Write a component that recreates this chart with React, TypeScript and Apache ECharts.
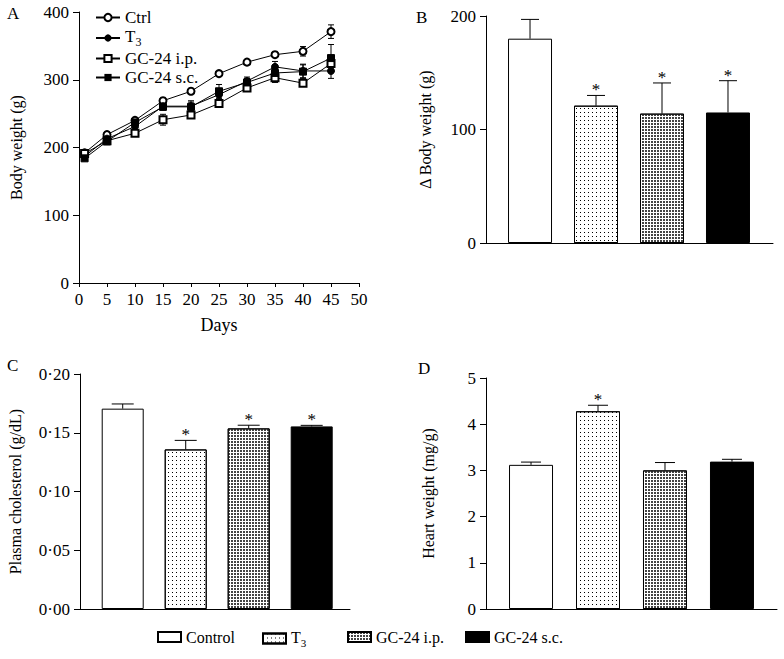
import React, { useEffect, useRef } from "react";
import * as echarts from "echarts";

// ---------- Data ----------
const days = [1, 5, 10, 15, 20, 25, 30, 35, 40, 45];
const ctrlMean = [192, 219, 240, 269, 283, 309, 326, 337, 342, 371];
const ctrlErr = [3, 4, 3, 4, 2, 2, 3, 4, 7, 10];
const t3Mean = [187, 213, 231, 261, 261, 278, 298, 319, 313, 313];
const t3Err = [2, 3, 4, 6, 6, 6, 6, 8, 10, 11];
const ipMean = [191, 210, 221, 241, 248, 265, 288, 303, 295, 324];
const ipErr = [2, 3, 3, 8, 5, 5, 5, 7, 5, 6];
const scMean = [184, 209, 237, 260, 260, 283, 296, 310, 312, 332];
const scErr = [2, 3, 3, 4, 9, 10, 6, 8, 10, 20];

const lineGroups = ["Ctrl", "T3", "GC-24 i.p.", "GC-24 s.c."];
const barGroups = ["Control", "T3", "GC-24 i.p.", "GC-24 s.c."];

const deltaBW = [180, 121, 114, 115];
const deltaBWErr = [17, 9, 27, 28];
const deltaBWSig = [0, 1, 1, 1];

const cholesterol = [0.1705, 0.1358, 0.1537, 0.1554];
const cholesterolErr = [0.004, 0.0077, 0.0027, 0.0009];
const cholesterolSig = [0, 1, 1, 1];

const heartWeight = [3.12, 4.28, 3.0, 3.19];
const heartWeightErr = [0.06, 0.13, 0.17, 0.05];
const heartWeightSig = [0, 1, 0, 0];

const yTicksA = [0, 100, 200, 300, 400];
const xTicksA = [0, 5, 10, 15, 20, 25, 30, 35, 40, 45, 50];

// ---------- Styles ----------
const F = "Liberation Serif, Times New Roman, serif";
const BLACK = "#000";

const lineMeans = [ctrlMean, t3Mean, ipMean, scMean];
const lineErrs = [ctrlErr, t3Err, ipErr, scErr];
const lineSymbols = ["emptyCircle", "circle", "emptyRect", "rect"];

const barItemStyles: any[] = [
  { color: "#fff", borderColor: BLACK, borderWidth: 1 },
  {
    color: "#fff",
    borderColor: BLACK,
    borderWidth: 1,
    decal: { symbol: "rect", symbolSize: 1, dashArrayX: [1, 3], dashArrayY: [1, 3], color: BLACK },
  },
  {
    color: "#fff",
    borderColor: BLACK,
    borderWidth: 1,
    decal: { symbol: "rect", symbolSize: 1, dashArrayX: [2, 1], dashArrayY: [2, 1], color: "#444" },
  },
  { color: BLACK, borderColor: BLACK, borderWidth: 1 },
];

const richName = (name: string) => {
  const n = name.replace(/^(line|bar) /, "");
  if (n === "T3") return "{n|T}{sub|3}";
  return "{n|" + n + "}";
};

function App() {
  const ref = useRef<HTMLDivElement>(null);

  useEffect(() => {
    if (!ref.current) return;
    const chart = echarts.init(ref.current, undefined, { renderer: "svg" });

    const axisBase = (fontSize = 17, tickLen = 6, margin = 10) => ({
      axisLine: { show: true, onZero: false, lineStyle: { color: BLACK, width: 1 } },
      axisTick: { show: true, length: tickLen, lineStyle: { color: BLACK, width: 1 } },
      axisLabel: { color: BLACK, fontFamily: F, fontSize, margin },
      splitLine: { show: false },
    });
    const nameStyle = { fontFamily: F, fontSize: 16, color: BLACK };

    const grids = [
      { left: 79, top: 12, width: 280, height: 271 },
      { left: 486, top: 16, width: 287, height: 227 },
      { left: 80, top: 374, width: 270, height: 235 },
      { left: 486, top: 378, width: 291, height: 231 },
    ];

    const barXAxis = (gridIndex: number, min: number, max: number) => ({
      type: "value",
      gridIndex,
      min,
      max,
      axisLine: { show: true, onZero: false, lineStyle: { color: BLACK, width: 1 } },
      axisTick: { show: false },
      axisLabel: { show: false },
      splitLine: { show: false },
    });

    const xAxis: any[] = [
      {
        type: "value",
        gridIndex: 0,
        min: xTicksA[0],
        max: xTicksA[xTicksA.length - 1],
        interval: 5,
        ...axisBase(17, 4, 8),
        name: "Days",
        nameLocation: "middle",
        nameGap: 33,
        nameTextStyle: { ...nameStyle, fontSize: 18 },
      },
      barXAxis(1, -0.667, 3.682),
      barXAxis(2, -0.678, 3.608),
      barXAxis(3, -0.672, 3.672),
    ];

    const yAxis: any[] = [
      {
        type: "value",
        gridIndex: 0,
        min: yTicksA[0],
        max: yTicksA[yTicksA.length - 1],
        interval: 100,
        ...axisBase(),
        name: "Body weight (g)",
        nameLocation: "middle",
        nameGap: 55,
        nameTextStyle: nameStyle,
      },
      {
        type: "value",
        gridIndex: 1,
        min: 0,
        max: 200,
        interval: 100,
        ...axisBase(),
        name: "\u0394 Body weight (g)",
        nameLocation: "middle",
        nameGap: 53,
        nameTextStyle: nameStyle,
      },
      {
        type: "value",
        gridIndex: 2,
        min: 0,
        max: 0.2,
        interval: 0.05,
        ...axisBase(),
        axisLabel: {
          color: BLACK,
          fontFamily: F,
          fontSize: 17,
          margin: 10,
          formatter: (v: number) => v.toFixed(2).replace(".", "\u00b7"),
        },
        name: "Plasma cholesterol (g/dL)",
        nameLocation: "middle",
        nameGap: 57,
        nameTextStyle: nameStyle,
      },
      {
        type: "value",
        gridIndex: 3,
        min: 0,
        max: 5,
        interval: 1,
        ...axisBase(),
        name: "Heart weight (mg/g)",
        nameLocation: "middle",
        nameGap: 50,
        nameTextStyle: nameStyle,
      },
    ];

    const series: any[] = [];

    // Panel A lines
    lineGroups.forEach((g, k) => {
      series.push({
        type: "line",
        name: "line " + g,
        xAxisIndex: 0,
        yAxisIndex: 0,
        data: days.map((d, i) => [d, lineMeans[k][i]]),
        symbol: lineSymbols[k],
        symbolSize: 7,
        showAllSymbol: true,
        lineStyle: { color: BLACK, width: 1 },
        itemStyle: { color: BLACK, borderColor: BLACK },
        z: 3,
      });
      series.push({
        type: "custom",
        name: "err " + g,
        xAxisIndex: 0,
        yAxisIndex: 0,
        z: 2,
        data: days.map((d, i) => [d, lineMeans[k][i], lineErrs[k][i]]),
        renderItem: (params: any, api: any) => {
          const x = api.value(0);
          const m = api.value(1);
          const e = api.value(2);
          const lo = api.coord([x, m - e]);
          const hi = api.coord([x, m + e]);
          const w = 3;
          const st = { stroke: BLACK, lineWidth: 1 };
          return {
            type: "group",
            children: [
              { type: "line", shape: { x1: lo[0], y1: lo[1], x2: hi[0], y2: hi[1] }, style: st },
              { type: "line", shape: { x1: hi[0] - w, y1: hi[1], x2: hi[0] + w, y2: hi[1] }, style: st },
              { type: "line", shape: { x1: lo[0] - w, y1: lo[1], x2: lo[0] + w, y2: lo[1] }, style: st },
            ],
          };
        },
      });
    });

    // Bar panels
    const barPanels = [
      { idx: 1, vals: deltaBW, errs: deltaBWErr, sig: deltaBWSig, width: 44, cap: 9 },
      { idx: 2, vals: cholesterol, errs: cholesterolErr, sig: cholesterolSig, width: 42, cap: 11 },
      { idx: 3, vals: heartWeight, errs: heartWeightErr, sig: heartWeightSig, width: 44, cap: 10 },
    ];
    barPanels.forEach((p) => {
      barGroups.forEach((g, i) => {
        series.push({
          type: "bar",
          name: "bar " + g,
          xAxisIndex: p.idx,
          yAxisIndex: p.idx,
          barWidth: p.width,
          barGap: "-100%",
          data: [[i, p.vals[i]]],
          itemStyle: barItemStyles[i],
          z: 2,
        });
      });
      series.push({
        type: "custom",
        name: "barerr" + p.idx,
        xAxisIndex: p.idx,
        yAxisIndex: p.idx,
        z: 4,
        data: p.vals.map((v, i) => [i, v, p.errs[i], p.sig[i]]),
        renderItem: (params: any, api: any) => {
          const x = api.value(0);
          const v = api.value(1);
          const e = api.value(2);
          const s = api.value(3);
          const base = api.coord([x, v]);
          const top = api.coord([x, v + e]);
          const st = { stroke: BLACK, lineWidth: 1 };
          const children: any[] = [
            { type: "line", shape: { x1: base[0], y1: base[1], x2: top[0], y2: top[1] }, style: st },
            { type: "line", shape: { x1: top[0] - p.cap, y1: top[1], x2: top[0] + p.cap, y2: top[1] }, style: st },
          ];
          if (s) {
            children.push({
              type: "text",
              x: top[0],
              y: top[1] + 3,
              style: {
                text: "*",
                fill: BLACK,
                font: "17px Liberation Serif, serif",
                textAlign: "center",
                textVerticalAlign: "bottom",
              },
            });
          }
          return { type: "group", children };
        },
      });
    });

    const rich = {
      n: { fontFamily: F, fontSize: 17, color: BLACK, verticalAlign: "top" },
      sub: { fontFamily: F, fontSize: 12, color: BLACK, verticalAlign: "top", padding: [8, 0, 0, 0] },
    };
    const richB = {
      n: { fontFamily: F, fontSize: 16, color: BLACK, verticalAlign: "top" },
      sub: { fontFamily: F, fontSize: 11, color: BLACK, verticalAlign: "top", padding: [8, 0, 0, 0] },
    };

    const bottomLefts = [152, 257, 342, 460];
    const legends: any[] = [
      {
        data: lineGroups.map((g) => "line " + g),
        orient: "vertical",
        left: 90,
        top: 4,
        itemWidth: 24,
        itemHeight: 9,
        itemGap: 2,
        selectedMode: false,
        formatter: richName,
        textStyle: { rich },
      },
      ...barGroups.map((g, i) => ({
        data: ["bar " + g],
        left: bottomLefts[i],
        top: 624,
        icon: "rect",
        itemWidth: 23,
        itemHeight: 10,
        selectedMode: false,
        formatter: richName,
        textStyle: { rich: richB },
      })),
    ];

    const labelStyle = (t: string, x: number, y: number) => ({
      type: "text",
      left: x,
      top: y,
      style: { text: t, font: "17px Liberation Serif, serif", fill: BLACK },
    });

    chart.setOption({
      animation: false,
      backgroundColor: "#fff",
      grid: grids,
      xAxis,
      yAxis,
      series,
      legend: legends,
      graphic: [
        labelStyle("A", 7, 5),
        labelStyle("B", 416, 9),
        labelStyle("C", 7, 357),
        labelStyle("D", 418, 360),
      ],
    });

    return () => chart.dispose();
  }, []);

  return (
    <div
      ref={ref}
      style={{ position: "fixed", left: 0, top: 0, width: 784, height: 659, background: "#fff" }}
    />
  );
}

export default App;
